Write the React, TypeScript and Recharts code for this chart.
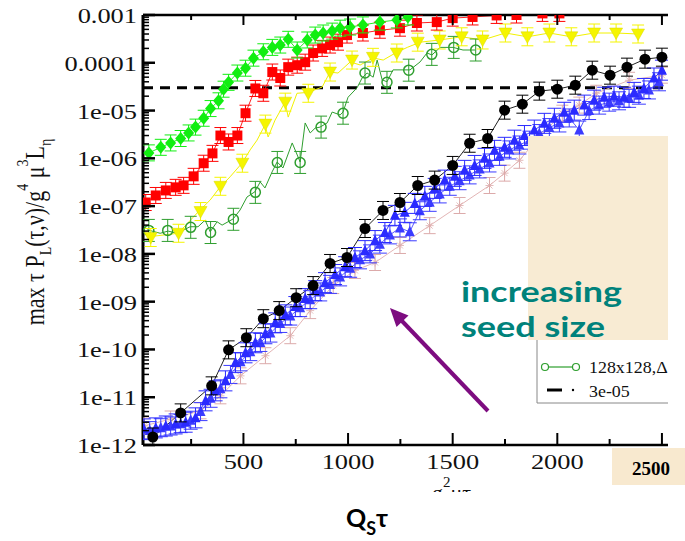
import React from "react"
import { LineChart, Line, XAxis, YAxis, ReferenceLine } from "recharts"

// x = g^2 mu tau, y = max tau P_L / g^4 mu^3 L_eta
const limePts: [number, number][] = [
  [48, 1.3e-6], [105, 1.7e-6], [152, 2.1e-6], [200, 2.6e-6], [238, 3.4e-6], [271, 4.5e-6],
  [310, 6.9e-6], [343, 1.1e-5], [381, 1.6e-5], [405, 2.8e-5], [429, 3.9e-5], [471, 6.1e-5],
  [510, 7.7e-5], [548, 1.25e-4], [595, 1.7e-4], [638, 2.1e-4], [676, 2.35e-4], [714, 3.1e-4],
  [757, 1.85e-4], [805, 3.0e-4], [843, 3.8e-4], [881, 4.2e-4], [924, 4.6e-4], [962, 5.3e-4],
  [1010, 5.6e-4], [1071, 6.2e-4], [1152, 7.1e-4], [1233, 7.9e-4], [1286, 9.1e-4],
]
const redPts: [number, number][] = [
  [33, 1.19e-7], [81, 1.67e-7], [129, 2.13e-7], [176, 2.47e-7], [214, 2.72e-7], [262, 4.2e-7],
  [310, 7.9e-7], [352, 1.27e-6], [390, 3.0e-6], [429, 2.2e-6], [471, 3.0e-6], [510, 8.8e-6],
  [557, 2.9e-5], [595, 2.3e-5], [638, 6.4e-5], [676, 4.8e-5], [714, 8.1e-5], [757, 8.9e-5],
  [795, 1.03e-4], [833, 1.6e-4], [876, 2.0e-4], [914, 2.35e-4], [952, 2.7e-4], [995, 3.8e-4],
  [1071, 4.2e-4], [1152, 4.8e-4], [1248, 5.3e-4], [1329, 6.8e-4], [1424, 7.1e-4], [1500, 8.6e-4],
  [1595, 9.1e-4], [1710, 9.8e-4], [1805, 1.0e-3], [1929, 1.08e-3], [2010, 1.08e-3],
]
const yellowPts: [number, number][] = [
  [57, 2.2e-8], [190, 2.7e-8], [295, 7.7e-8], [390, 2.6e-7], [495, 7.9e-7], [605, 5.2e-6],
  [700, 1.5e-5], [810, 2.3e-5], [914, 6.4e-5], [1019, 1.14e-4], [1119, 1.3e-4], [1233, 1.6e-4],
  [1333, 2.7e-4], [1438, 3.0e-4], [1543, 3.5e-4], [1643, 3.0e-4], [1752, 4.2e-4], [1857, 3.5e-4],
  [1962, 4.2e-4], [2067, 3.5e-4], [2176, 4.2e-4], [2281, 4.2e-4], [2386, 4.0e-4],
]
// thin connecting trace of the yellow run (more samples than markers)
const yellowTrace: [number, number][] = [
  [54, 2.3e-8], [188, 2.7e-8], [283, 7.5e-8], [341, 1.34e-7], [388, 2.5e-7], [436, 4.1e-7],
  [494, 8.0e-7], [532, 1.5e-6], [565, 2.4e-6], [603, 5.0e-6], [618, 2.8e-6], [651, 6.3e-6],
  [699, 1.5e-5], [714, 7.3e-6], [756, 2.3e-5], [809, 2.4e-5], [876, 3.1e-5], [914, 6.4e-5],
  [952, 6.1e-5], [1010, 1.04e-4], [1058, 9.0e-5], [1120, 1.26e-4], [1168, 1.14e-4], [1226, 1.6e-4],
  [1283, 2.1e-4], [1345, 2.7e-4], [1438, 3.0e-4], [1543, 3.5e-4], [1643, 3.0e-4], [1752, 4.2e-4],
  [1857, 3.5e-4], [1962, 4.2e-4], [2067, 3.5e-4], [2176, 4.2e-4], [2281, 4.2e-4], [2386, 4.0e-4],
]
const greenPts: [number, number][] = [
  [48, 3.1e-8], [138, 3.1e-8], [248, 3.6e-8], [343, 2.8e-8], [452, 5.3e-8], [557, 1.94e-7],
  [662, 8.2e-7], [771, 8.2e-7], [871, 4.5e-6], [976, 8.8e-6], [1081, 6.1e-5], [1186, 3.9e-5],
  [1290, 7.0e-5], [1400, 1.5e-4], [1505, 2.1e-4], [1610, 1.85e-4],
]
const greenTrace: [number, number][] = [
  [40, 3.2e-8], [102, 2.7e-8], [140, 3.0e-8], [183, 2.7e-8], [245, 3.7e-8], [283, 3.7e-8],
  [317, 5.1e-8], [341, 2.9e-8], [374, 4.7e-8], [398, 4.0e-8], [451, 5.4e-8], [484, 8.3e-8],
  [517, 1.55e-7], [555, 2.0e-7], [580, 3.2e-7], [603, 2.4e-7], [637, 5.2e-7], [661, 8.4e-7],
  [689, 6.3e-7], [733, 2.1e-6], [771, 8.4e-7], [795, 5.5e-6], [819, 3.4e-6], [843, 4.3e-6],
  [866, 4.5e-6], [900, 5.5e-6], [924, 9.3e-6], [962, 8.1e-6], [976, 9.3e-6], [1000, 1.9e-5],
  [1043, 3.0e-5], [1067, 4.8e-5], [1091, 6.1e-5], [1120, 5.0e-5], [1139, 1.14e-4], [1163, 4.4e-5],
  [1186, 4.0e-5], [1215, 7.1e-5], [1263, 7.1e-5], [1296, 7.1e-5], [1344, 1.04e-4], [1377, 1.6e-4],
  [1401, 1.46e-4], [1440, 2.1e-4], [1502, 2.1e-4], [1549, 1.85e-4], [1607, 1.85e-4],
]
const blackPts: [number, number][] = [
  [67, 1.47e-12], [200, 4.7e-12], [348, 1.73e-11], [429, 9.8e-11], [514, 1.76e-10], [595, 4.4e-10],
  [671, 6.5e-10], [752, 1.21e-9], [833, 2.17e-9], [914, 6.3e-9], [995, 8.4e-9], [1081, 3.4e-8],
  [1167, 8.1e-8], [1248, 1.19e-7], [1333, 2.7e-7], [1414, 3.5e-7], [1500, 7.1e-7], [1581, 2.07e-6],
  [1667, 2.6e-6], [1748, 1.02e-5], [1833, 1.36e-5], [1914, 2.55e-5], [2000, 2.8e-5], [2086, 3.4e-5],
  [2167, 7.0e-5], [2252, 5.5e-5], [2333, 8.1e-5], [2419, 1.19e-4], [2500, 1.31e-4],
]
const bluePts: [number, number][] = [
  [24, 2.17e-12], [81, 2.28e-12], [129, 2.5e-12], [176, 2.76e-12], [224, 3.0e-12], [271, 3.7e-12],
  [319, 8.4e-12], [367, 1.36e-11], [414, 2.2e-11], [462, 5.3e-11], [510, 8.5e-11], [557, 1.38e-10],
  [605, 2.13e-10], [652, 3.6e-10], [700, 5.3e-10], [748, 7.9e-10], [795, 1.16e-9], [843, 1.7e-9],
  [890, 2.5e-9], [938, 3.7e-9], [986, 5.4e-9], [1033, 8.4e-9], [1081, 1.17e-8], [1129, 1.9e-8],
  [1176, 2.8e-8], [1224, 6.4e-8], [1271, 7.4e-8], [1319, 1.14e-7], [1367, 1.6e-7], [1414, 2.35e-7],
  [1462, 3.5e-7], [1510, 4.2e-7], [1557, 5.6e-7], [1605, 7.1e-7], [1652, 1.0e-6], [1700, 1.47e-6],
  [1748, 1.7e-6], [1795, 2.4e-6], [1843, 3.0e-6], [1890, 3.9e-6], [1938, 5.4e-6], [1986, 6.9e-6],
  [2033, 9.2e-6], [2081, 1.02e-5], [2129, 1.3e-5], [2176, 1.65e-5], [2224, 1.9e-5], [2271, 2.0e-5],
  [2319, 1.9e-5], [2367, 2.4e-5], [2414, 2.9e-5], [2462, 4.8e-5], [2500, 7.0e-5],
]
const blue2Pts: [number, number][] = [
  [52, 2.0e-12], [105, 2.3e-12], [152, 2.5e-12], [200, 2.8e-12], [248, 3.3e-12], [295, 5.0e-12],
  [343, 9.5e-12], [390, 1.5e-11], [438, 3.0e-11], [486, 5.5e-11], [533, 9.0e-11], [581, 1.4e-10],
  [629, 2.2e-10], [676, 3.5e-10], [724, 5.0e-10], [771, 7.5e-10], [819, 1.1e-9], [867, 1.6e-9],
  [914, 2.3e-9], [962, 3.3e-9], [1010, 5.0e-9], [1057, 7.5e-9], [1105, 1.0e-8], [1152, 1.6e-8],
  [1200, 2.5e-8], [1248, 3.5e-8], [1295, 2.9e-8], [1343, 8.0e-8], [1390, 1.2e-7], [1438, 1.8e-7],
  [1486, 2.6e-7], [1533, 3.4e-7], [1581, 4.5e-7], [1629, 6.0e-7], [1676, 8.0e-7], [1724, 1.1e-6],
  [1771, 1.5e-6], [1819, 1.9e-6], [1867, 2.4e-6], [1914, 3.3e-6], [1962, 4.4e-6], [2010, 5.5e-6],
  [2057, 7.0e-6], [2105, 3.9e-6], [2152, 1.0e-5], [2200, 1.3e-5], [2248, 1.5e-5], [2295, 1.6e-5],
  [2343, 1.8e-5], [2390, 2.1e-5], [2438, 2.7e-5], [2486, 4.0e-5],
]
const pinkPts: [number, number][] = [
  [24, 2.5e-12], [152, 3.5e-12], [295, 5.2e-12], [390, 1.07e-11], [486, 2.8e-11], [605, 7.4e-11],
  [724, 1.94e-10], [819, 6.5e-10], [929, 2.17e-9], [1033, 4.5e-9], [1129, 6.6e-9], [1248, 1.5e-8],
  [1390, 3.9e-8], [1533, 1.03e-7], [1676, 2.7e-7], [1748, 4.9e-7], [1819, 9.1e-7], [1900, 2.4e-6],
  [2024, 8.8e-6], [2105, 1.3e-5], [2186, 2.3e-5], [2343, 4.3e-5], [2500, 5.5e-5],
]

const yMajor = [1e-12, 1e-11, 1e-10, 1e-9, 1e-8, 1e-7, 1e-6, 1e-5, 1e-4, 1e-3]
const yLabels = ["1e-12", "1e-11", "1e-10", "1e-09", "1e-08", "1e-07", "1e-06", "1e-05", "0.0001", "0.001"]
const xMajor = [500, 1000, 1500, 2000, 2500]
const xLabels = ["500", "1000", "1500", "2000", ""]
const xMinor = [250, 750, 1250, 1750, 2250]
const threshold = 3e-5

const toRows = (pts: [number, number][]) => pts.map(([x, v]) => ({ x, v }))

const yTicks: number[] = []
yMajor.forEach((d, i) => {
  yTicks.push(d)
  if (i < yMajor.length - 1) for (let m = 2; m <= 9; m++) yTicks.push(d * m)
})
const xTicks = [...xMajor, ...xMinor].sort((a, b) => a - b)

const PL = 143
const PT = 15
const PB = 445
const SERIF = "'Liberation Serif', 'Times New Roman', serif"
const SANS = "Lato, 'Open Sans', sans-serif"

function YTick(props: any) {
  const { y, payload } = props
  const lg = Math.log10(payload.value)
  const major = Math.abs(lg - Math.round(lg)) < 1e-6
  return (
    <g>
      <line x1={PL} x2={PL + (major ? 12 : 6)} y1={y} y2={y} stroke="#000" strokeWidth={major ? 2.5 : 1.5} />
      {major && (
        <text transform={`translate(137,${y + 8}) scale(1.2,1)`} textAnchor="end" fontFamily={SERIF} fontSize={22} fill="#111">
          {yLabels[Math.round(lg) + 12]}
        </text>
      )}
    </g>
  )
}

function XTick(props: any) {
  const { x, payload } = props
  const i = xMajor.indexOf(payload.value)
  const major = i >= 0
  return (
    <g>
      <line x1={x} x2={x} y1={PB} y2={PB - (major ? 12 : 6)} stroke="#000" strokeWidth={2} />
      {major && xLabels[i] && (
        <text transform={`translate(${x},469) scale(1.2,1)`} textAnchor="middle" fontFamily={SERIF} fontSize={22} fill="#111">
          {xLabels[i]}
        </text>
      )}
    </g>
  )
}

function TopTick(props: any) {
  const { x, payload } = props
  const major = xMajor.includes(payload.value)
  return <line x1={x} x2={x} y1={PT} y2={PT + (major ? 10 : 5)} stroke="#000" strokeWidth={2} />
}

const errBar = (cx: number, cy: number, color: string, h: number, w: number) => (
  <g stroke={color} strokeWidth={1}>
    <line x1={cx} x2={cx} y1={cy - h} y2={cy + h} />
    <line x1={cx - w} x2={cx + w} y1={cy - h} y2={cy - h} />
    <line x1={cx - w} x2={cx + w} y1={cy + h} y2={cy + h} />
  </g>
)

const makeDot = (shape: string, color: string, eh: number, ew: number) => (p: any) => {
  const { cx, cy, index } = p
  if (cx == null || cy == null || isNaN(cy)) return <g key={index} />
  let mark: React.ReactNode = null
  if (shape === "diamond") mark = <path d={`M${cx},${cy - 6.5}L${cx + 5.5},${cy}L${cx},${cy + 6.5}L${cx - 5.5},${cy}Z`} fill={color} />
  if (shape === "square") mark = <rect x={cx - 5} y={cy - 5} width={10} height={10} fill={color} />
  if (shape === "tridown") mark = <path d={`M${cx - 6.5},${cy - 5}L${cx + 6.5},${cy - 5}L${cx},${cy + 6.5}Z`} fill={color} stroke="#d8d800" strokeWidth={0.5} />
  if (shape === "triup") mark = <path d={`M${cx - 5},${cy + 4.5}L${cx + 5},${cy + 4.5}L${cx},${cy - 6}Z`} fill={color} />
  if (shape === "open") mark = <circle cx={cx} cy={cy} r={5} fill="none" stroke={color} strokeWidth={1.5} />
  if (shape === "ball") mark = <circle cx={cx} cy={cy} r={5.5} fill={color} />
  if (shape === "star")
    mark = (
      <g stroke={color} strokeWidth={0.8}>
        <line x1={cx - 4} x2={cx + 4} y1={cy} y2={cy} />
        <line x1={cx} x2={cx} y1={cy - 4} y2={cy + 4} />
        <line x1={cx - 3} x2={cx + 3} y1={cy - 3} y2={cy + 3} />
        <line x1={cx - 3} x2={cx + 3} y1={cy + 3} y2={cy - 3} />
      </g>
    )
  return (
    <g key={index}>
      {eh > 0 && errBar(cx, cy, color, eh, ew)}
      {mark}
    </g>
  )
}

// stroke "none" = markers only, dot false = trace only
const series = [
  { key: "pink", pts: pinkPts, color: "#e3b5b5", dot: makeDot("star", "#dcaaaa", 8, 6) },
  { key: "blue2", pts: blue2Pts, color: "#5a5aff", dot: makeDot("triup", "#3b3bff", 9, 7) },
  { key: "blue", pts: bluePts, color: "#3b3bff", dot: makeDot("triup", "#2a2aff", 10, 7) },
  { key: "black", pts: blackPts, color: "#222", dot: makeDot("ball", "#000", 9, 6) },
  { key: "greenTrace", pts: greenTrace, color: "#2e9e2e", dot: false },
  { key: "green", pts: greenPts, color: "none", dot: makeDot("open", "#2e9e2e", 11, 6) },
  { key: "yellowTrace", pts: yellowTrace, color: "#f2f200", dot: false },
  { key: "yellow", pts: yellowPts, color: "none", dot: makeDot("tridown", "#f5f500", 9, 6) },
  { key: "red", pts: redPts, color: "#ff2020", dot: makeDot("square", "#ff0000", 8, 6) },
  { key: "lime", pts: limePts, color: "#22ee22", dot: makeDot("diamond", "#11ee11", 8, 6) },
]

function Overlay() {
  return (
    <svg width={685} height={541} style={{ position: "absolute", left: 0, top: 0, pointerEvents: "none" }}>
      <defs>
        <clipPath id="xlab">
          <rect x={0} y={470} width={685} height={22} />
        </clipPath>
      </defs>
      {/* y axis title */}
      <text transform="translate(44,232) scale(1.2,1) rotate(-90)" textAnchor="middle" fontFamily={SERIF} fontSize={22} fill="#111">
        max τ P<tspan dy={6} fontSize={14}>L</tspan>
        <tspan dy={-6}>(τ,ν)/g</tspan>
        <tspan dy={-13} fontSize={14}>4</tspan>
        <tspan dy={13}> μ</tspan>
        <tspan dy={-13} fontSize={14}>3</tspan>
        <tspan dy={13}>L</tspan>
        <tspan dy={6} fontSize={14}>η</tspan>
      </text>
      {/* original x title, mostly cut off */}
      <g clipPath="url(#xlab)">
        <text x={432} y={500} fontFamily={SERIF} fontSize={22} fill="#111">
          g<tspan dy={-13} fontSize={15}>2</tspan>
          <tspan dy={13}>μτ</tspan>
        </text>
      </g>
      {/* legend remnant */}
      <rect x={537} y={330} width={131} height={73} fill="#fff" />
      <path d="M537,330V403H668" fill="none" stroke="#888" strokeWidth={1} />
      <line x1={545} x2={576} y1={367} y2={367} stroke="#2e9e2e" strokeWidth={1.2} />
      <circle cx={545} cy={367} r={3.5} fill="#fff" stroke="#2e9e2e" strokeWidth={1.2} />
      <circle cx={576} cy={367} r={3.5} fill="#fff" stroke="#2e9e2e" strokeWidth={1.2} />
      <text transform="translate(589,373) scale(1.12,1)" fontFamily={SERIF} fontSize={16} fill="#111">128x128,Δ</text>
      <line x1={547} x2={562} y1={390} y2={390} stroke="#000" strokeWidth={3} />
      <circle cx={573} cy={390} r={1.2} fill="#000" />
      <text transform="translate(589,397) scale(1.12,1)" fontFamily={SERIF} fontSize={16} fill="#111">3e-05</text>
      {/* paper patch */}
      <rect x={528} y={136} width={140} height={204} fill="#f8ebd3" />
      <rect x={612} y={448} width={73} height={37} fill="#f8e9cf" />
      <text x={632} y={475} fontFamily={SERIF} fontWeight={700} fontSize={19} fill="#000">2500</text>
      {/* annotation */}
      <text x={461} y={302} fontFamily={SANS} fontWeight={700} fontSize={29} fill="#00827b" textLength={161} lengthAdjust="spacingAndGlyphs">
        increasing
      </text>
      <text x={461} y={337} fontFamily={SANS} fontWeight={700} fontSize={29} fill="#00827b" textLength={144} lengthAdjust="spacingAndGlyphs">
        seed size
      </text>
      <line x1={488} y1={411} x2={402} y2={321} stroke="#7d0c80" strokeWidth={4} />
      <polygon points="390,308 408.5,315.5 396.5,327" fill="#7d0c80" />
      {/* new x title */}
      <text x={346} y={527} fontFamily={SANS} fontWeight={700} fontSize={25} fill="#000">
        Q<tspan dy={8} fontSize={18}>S</tspan>
        <tspan dy={-8}>τ</tspan>
      </text>
    </svg>
  )
}

export default function App() {
  return (
    <div style={{ position: "absolute", left: 0, top: 0, width: 685, height: 541, background: "#fff" }}>
      <LineChart width={685} height={541} margin={{ top: 0, right: 17, left: 0, bottom: 0 }}>
        <XAxis
          xAxisId="b"
          type="number"
          dataKey="x"
          domain={[20, 2529]}
          allowDataOverflow
          ticks={xTicks}
          tick={<XTick />}
          tickLine={false}
          height={96}
          axisLine={{ stroke: "#000", strokeWidth: 2.5 }}
        />
        <XAxis
          xAxisId="t"
          orientation="top"
          type="number"
          dataKey="x"
          domain={[20, 2529]}
          allowDataOverflow
          ticks={xTicks}
          tick={<TopTick />}
          tickLine={false}
          height={15}
          axisLine={{ stroke: "#000", strokeWidth: 2.5 }}
        />
        <YAxis
          yAxisId="l"
          scale="log"
          type="number"
          domain={[1e-12, 1e-3]}
          allowDataOverflow
          ticks={yTicks}
          tick={<YTick />}
          tickLine={false}
          width={143}
          axisLine={{ stroke: "#000", strokeWidth: 3 }}
          interval={0}
        />
        <ReferenceLine xAxisId="b" yAxisId="l" y={threshold} stroke="#000" strokeWidth={3} strokeDasharray="10 7" />
        {series.map(s => (
          <Line
            key={s.key}
            xAxisId="b"
            yAxisId="l"
            data={toRows(s.pts)}
            dataKey="v"
            type="linear"
            stroke={s.color}
            strokeWidth={1}
            dot={s.dot}
            activeDot={false}
            isAnimationActive={false}
          />
        ))}
      </LineChart>
      <Overlay />
    </div>
  )
}
